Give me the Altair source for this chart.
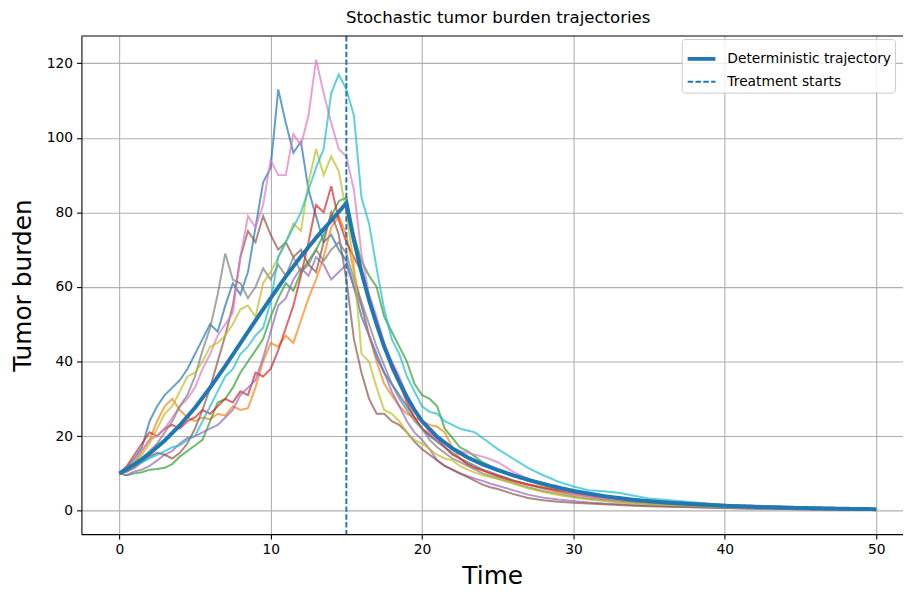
import altair as alt
import pandas as pd

# ---- sample times of the stochastic trajectories ----
T = [0, 0.5, 1, 1.5, 2, 2.5, 3, 3.5, 4, 4.5,
     5, 5.5, 6, 6.5, 7, 7.5, 8, 8.5, 9, 9.5,
     10, 10.5, 11, 11.5, 12, 12.5, 13, 13.5, 14, 14.5,
     15, 15.5, 16, 16.5, 17, 17.5, 18, 18.5, 19, 19.5,
     20, 20.5, 21, 21.5, 22, 22.5, 23, 23.5, 24, 24.5,
     25,
     26, 27, 28, 29, 30, 31, 32, 33, 34, 35,
     40, 45, 50]

# ---- stochastic trajectories ----
C0 = [10, 11.5, 14, 17, 24, 28, 31, 33, 35, 38,
      42, 46, 50, 48, 55, 61, 58, 64, 76, 88,
      92, 113, 104, 96, 99, 86, 79, 72, 74, 70,
      67, 60, 52, 47, 42, 37, 34, 31, 28, 25,
      22, 20, 18.5, 17, 15.5, 14, 13, 12, 11, 10.3,
      9.6,
      8.2, 7, 6, 5.2, 4.5, 3.9, 3.4, 2.9, 2.5, 2.2,
      1.2, 0.6, 0.3]
C1 = [10, 11.5, 13, 16, 19, 24, 28, 30, 27, 25,
      24, 25, 24.5, 26, 25.5, 28, 27, 27.5, 33, 40,
      45, 44, 47, 45, 51, 57, 62, 68, 76, 79,
      74, 64, 55, 47, 40, 34, 31, 28, 26, 25,
      24, 23, 22.5, 21, 17, 14, 12.5, 11.5, 10.8, 10,
      9.3,
      8, 7, 6, 5, 4.3, 3.7, 3.2, 2.8, 2.4, 2.1,
      1.1, 0.6, 0.3]
C2 = [10, 9.5, 10, 10.3, 11, 11.2, 11.5, 12.5, 14.5, 16,
      17.5, 19, 24, 29, 30, 33, 37, 40, 43, 46,
      52, 57, 61, 59, 64, 67, 70, 74, 79, 83,
      84, 74, 67, 63, 60, 52, 48, 44, 40, 34,
      31, 30, 28, 22, 19.5, 17, 16, 14.5, 13, 12,
      11,
      9.5, 8, 6.8, 5.8, 5, 4.3, 3.7, 3.2, 2.8, 2.4,
      1.3, 0.7, 0.4]
C3 = [10, 12, 15, 18, 21, 20, 22, 23, 22, 24,
      25, 27, 26, 28, 30, 29, 32, 31, 37, 36,
      38, 43, 49, 55, 63, 72, 82, 80, 87, 78,
      72, 68, 64, 56, 50, 44, 38, 34, 29, 25,
      22, 20.5, 19, 17, 15, 14, 12.5, 11.5, 10.8, 10,
      9.3,
      8, 7, 6.2, 5.5, 4.8, 4.2, 3.8, 3.3, 3, 2.7,
      1.6, 0.9, 0.4]
C4 = [10, 9.5, 10.5, 11, 12, 13.5, 15, 16, 18, 19.5,
      20, 21, 22, 23, 25, 27, 31, 33, 35, 41,
      48, 55, 57, 62, 65, 63, 68, 66, 62, 64,
      66, 60, 55, 47, 41, 37, 32, 28, 24, 21,
      19, 16.5, 13.5, 12, 11, 10, 9.3, 8.6, 8, 7.3,
      6.7,
      5.5, 4.3, 3.5, 3, 2.6, 2.2, 1.9, 1.7, 1.5, 1.3,
      0.7, 0.4, 0.2]
C5 = [10, 10.5, 11.5, 13, 14.5, 15.5, 15, 14, 15.5, 18,
      22, 27, 33, 40, 47, 55, 68, 75, 72, 79,
      74, 70, 72, 68, 70, 66, 64, 72, 80, 74,
      62, 46, 37, 30, 26, 26, 24, 23, 21, 18.5,
      16.5, 15, 13.5, 12, 11, 10, 9, 8, 7, 6.3,
      5.8,
      4.5, 3.4, 2.8, 2.4, 2.1, 1.9, 1.7, 1.5, 1.3, 1.2,
      0.7, 0.4, 0.2]
C6 = [10, 11, 13, 16, 19, 20, 22, 25, 28, 30,
      33, 38, 42, 47, 50, 53, 68, 79, 76, 82,
      94, 90, 90, 101, 98, 106, 121, 112, 104, 97,
      95, 86, 69, 58, 52, 45, 40, 36, 31, 27,
      24, 21, 19, 18, 17, 16, 15.5, 15, 14.5, 13.8,
      13,
      10.5, 8.5, 7, 5.8, 4.5, 3.8, 3.2, 2.8, 2.4, 2.0,
      1.0, 0.6, 0.3]
C7 = [10, 10.5, 12, 14, 16, 18, 21, 24, 28, 31,
      36, 43, 49, 58, 69, 62, 61, 57, 60, 65,
      62, 66, 63, 68, 64, 66, 70, 67, 70, 72,
      69, 62, 56, 50, 44, 39, 34, 30, 27, 24,
      22, 19, 17, 15.5, 14, 13, 12, 11, 10, 9.3,
      8.7,
      7.5, 6.3, 5.3, 4.5, 3.8, 3.2, 2.8, 2.4, 2.1, 1.8,
      0.9, 0.5, 0.3]
C8 = [10, 11.5, 13, 15, 18, 22, 26, 28, 32, 36,
      37, 40, 44, 45, 47, 50, 54, 55, 52, 61,
      64, 68, 72, 77, 75, 88, 97, 90, 95, 91,
      80, 66, 42, 40, 33, 27, 26, 24, 21, 19,
      18, 16.5, 15, 14, 13.5, 12, 11, 10.2, 9.5, 9,
      8.5,
      7.3, 6, 5, 4.2, 3.5, 3, 2.6, 2.2, 1.9, 1.7,
      0.9, 0.5, 0.3]
C9 = [10, 11.5, 12.5, 13, 14, 15, 16, 17, 17.5, 19,
      20, 24, 28, 32, 36, 38, 42, 44, 47, 49,
      56, 68, 72, 76, 80, 86, 92, 97, 112, 117,
      113, 106, 84, 77, 65, 54, 46, 42, 36, 32,
      28, 26.5, 26, 24, 23, 22, 21.5, 21, 19.5, 18,
      16.5,
      14, 11.5, 9.5, 7.8, 6.5, 5.5, 5.2, 4.8, 4, 3.3,
      1.5, 0.9, 0.5]

SERIES = {"C0": C0, "C1": C1, "C2": C2, "C3": C3, "C4": C4,
          "C5": C5, "C6": C6, "C7": C7, "C8": C8, "C9": C9}
COLORS = ["#1f77b4", "#ff7f0e", "#2ca02c", "#d62728", "#9467bd",
          "#8c564b", "#e377c2", "#7f7f7f", "#bcbd22", "#17becf"]

# ---- deterministic trajectory ----
DET_T = [0, 1, 2, 3, 4, 5, 6, 7, 8, 9, 10, 11, 12, 13, 14, 15,
         15.5, 16, 16.5, 17, 17.5, 18, 18.5, 19, 19.5, 20,
         21, 22, 23, 24, 25, 26, 27, 28, 29, 30,
         32, 34, 36, 38, 40, 42, 44, 46, 48, 50]
DET_V = [10, 12.4, 15.3, 18.8, 22.9, 27.6, 33, 38.8, 44.9, 51, 57, 62.8, 68.2, 73.2, 77.8, 82.5,
         72.5, 64, 56.5, 50, 44, 39, 34.5, 30.5, 27, 24,
         19.8, 16.7, 14.3, 12.4, 10.9, 9.5, 8.3, 7.2, 6.2, 5.3,
         3.9, 2.9, 2.2, 1.7, 1.3, 1.0, 0.8, 0.65, 0.5, 0.4]

TREATMENT_START = 15
KINDS = ["Deterministic trajectory", "Treatment starts"]

X_TICKS = [0, 10, 20, 30, 40, 50]
Y_TICKS = [0, 20, 40, 60, 80, 100, 120]

det = pd.DataFrame({"t": DET_T, "v": DET_V, "kind": KINDS[0]})
treat = pd.DataFrame({"t": [TREATMENT_START], "kind": [KINDS[1]]})

FONT = "DejaVu Sans"
xscale = alt.Scale(domain=[-2.5, 51.77], nice=False, zero=False)
yscale = alt.Scale(domain=[-6.3, 127.3], nice=False, zero=False)

common_axis = dict(grid=True, gridColor="#b0b0b0", gridWidth=1.1,
                   domainColor="black", domainWidth=1.1,
                   tickColor="black", tickWidth=1.1, tickSize=4.9,
                   labelFont=FONT, labelFontSize=13.9, labelColor="black",
                   labelPadding=4, titleFont=FONT, titleFontSize=25,
                   titleFontWeight="normal", titleColor="black")
xaxis = alt.Axis(values=X_TICKS, title="Time", titlePadding=7, **common_axis)
yaxis = alt.Axis(values=Y_TICKS, title="Tumor burden", titlePadding=11, **common_axis)

layers = []
for i, (name, vals) in enumerate(SERIES.items()):
    assert len(vals) == len(T), name
    df = pd.DataFrame({"t": T, "v": vals})
    if i == 0:
        enc = dict(x=alt.X("t:Q", scale=xscale, axis=xaxis),
                   y=alt.Y("v:Q", scale=yscale, axis=yaxis))
    else:
        enc = dict(x=alt.X("t:Q", scale=xscale), y=alt.Y("v:Q", scale=yscale))
    layers.append(alt.Chart(df).mark_line(strokeWidth=2, opacity=0.7, color=COLORS[i]).encode(**enc))

leg = alt.Legend(title=None, orient="none", legendX=605, legendY=3,
                 labelFont=FONT, labelFontSize=13.9, labelColor="black", labelLimit=0,
                 symbolType="stroke", symbolSize=784, labelOffset=10,
                 padding=4, rowPadding=0, strokeColor="#cccccc",
                 fillColor="rgba(255,255,255,0.8)", cornerRadius=3)

kind_color = alt.Color("kind:N", scale=alt.Scale(domain=KINDS, range=["#1f77b4", "#1f77b4"]), legend=leg)
kind_dash = alt.StrokeDash("kind:N", scale=alt.Scale(domain=KINDS, range=[[1, 0], [5.5, 2.4]]), legend=leg)
kind_width = alt.StrokeWidth("kind:N", scale=alt.Scale(domain=KINDS, range=[4, 2]), legend=leg)

det_chart = alt.Chart(det).mark_line().encode(
    x=alt.X("t:Q", scale=xscale),
    y=alt.Y("v:Q", scale=yscale),
    color=kind_color, strokeDash=kind_dash, strokeWidth=kind_width,
)
rule_chart = alt.Chart(treat).mark_rule().encode(
    x=alt.X("t:Q", scale=xscale),
    color=kind_color, strokeDash=kind_dash, strokeWidth=kind_width,
)

top_border = alt.Chart(pd.DataFrame({"a": [0]})).mark_rule(color="black", strokeWidth=1.1).encode(
    y=alt.value(0)
)

chart = alt.layer(
    *layers, det_chart, rule_chart, top_border
).properties(
    width=828, height=502,
    autosize=alt.AutoSizeParams(type="none"),
    padding={"left": 74, "top": 26, "right": 0, "bottom": 54},
    title=alt.TitleParams("Stochastic tumor burden trajectories", font=FONT, fontSize=16.7,
                          fontWeight="normal", color="black", anchor="middle", offset=8, dx=6),
).configure_view(stroke=None)

chart.save("out.html", embed_options={"renderer": "svg", "actions": False})
